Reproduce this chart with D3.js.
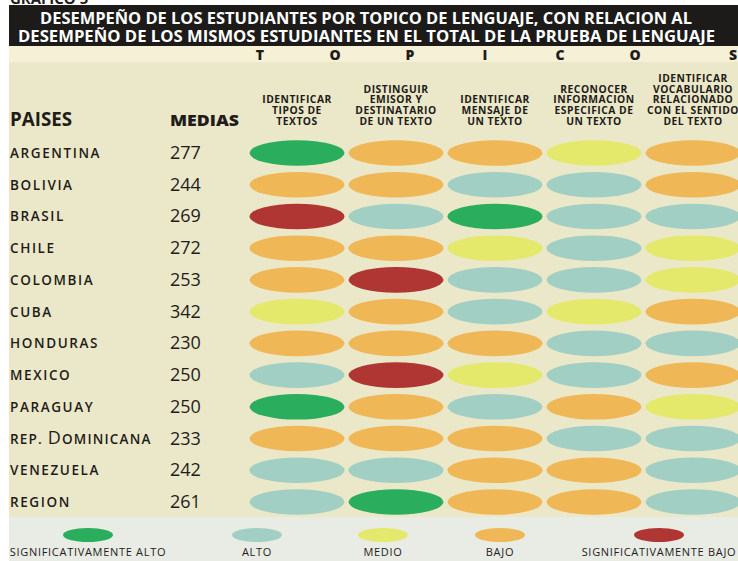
<!DOCTYPE html>
<html><head><meta charset="utf-8">
<script src="https://cdn.jsdelivr.net/npm/d3@7/dist/d3.min.js"></script>
<style>body{margin:0;background:#fff}svg{display:block}</style>
</head><body>
<svg id="chart" width="738" height="561"></svg>
<script>
const chartLabel = "GRÁFICO 5";
const titleLines = [
  "DESEMPEÑO DE LOS ESTUDIANTES POR TOPICO DE LENGUAJE, CON RELACION AL",
  "DESEMPEÑO DE LOS MISMOS ESTUDIANTES EN EL TOTAL DE LA PRUEBA DE LENGUAJE"
];
const topicLetters = ["T","O","P","I","C","O","S"];
const topics = [
  ["IDENTIFICAR","TIPOS DE","TEXTOS"],
  ["DISTINGUIR","EMISOR Y","DESTINATARIO","DE UN TEXTO"],
  ["IDENTIFICAR","MENSAJE DE","UN TEXTO"],
  ["RECONOCER","INFORMACION","ESPECIFICA DE","UN TEXTO"],
  ["IDENTIFICAR","VOCABULARIO","RELACIONADO","CON EL SENTIDO","DEL TEXTO"]
];
const countries = ["ARGENTINA","BOLIVIA","BRASIL","CHILE","COLOMBIA","CUBA","HONDURAS","MEXICO","PARAGUAY","REP. DOMINICANA","VENEZUELA","REGION"];
const medias = [277,244,269,272,253,342,230,250,250,233,242,261];
const ratings = [
  ["SA","B","B","M","B"],
  ["B","B","A","A","B"],
  ["SB","A","SA","A","A"],
  ["B","B","M","A","M"],
  ["B","SB","A","A","M"],
  ["M","B","A","M","B"],
  ["B","B","B","A","A"],
  ["A","SB","M","A","B"],
  ["SA","B","A","B","M"],
  ["B","B","B","A","A"],
  ["A","A","B","B","A"],
  ["A","SA","B","B","A"]
];
const levels = ["SA","A","M","B","SB"];
const levelLabels = ["SIGNIFICATIVAMENTE ALTO","ALTO","MEDIO","BAJO","SIGNIFICATIVAMENTE BAJO"];
const levelColors = ["#2aad5c","#a2cfc3","#e5e96b","#f0b757","#b03634"];

const svg = d3.select("#chart");
const FONT = "'Open Sans', 'Noto Sans', sans-serif";
const INK = "#1f1c1a";

// backgrounds
svg.append("rect").attr("x",9).attr("y",62).attr("width",729).attr("height",455).attr("fill","#ebe8c9");
svg.append("rect").attr("x",9).attr("y",46).attr("width",729).attr("height",16).attr("fill","#f5f0d6");
svg.append("rect").attr("x",9).attr("y",517).attr("width",729).attr("height",44).attr("fill","#e9ebe5");

svg.append("text").attr("x",10).attr("y",4).attr("font-family",FONT).attr("font-weight",700)
  .attr("font-size",15).attr("fill",INK).text(chartLabel);
svg.append("rect").attr("x",9).attr("y",5).attr("width",729).attr("height",41).attr("fill","#1c1b19");

const titleSpec = [{y:24,x0:40,x1:692},{y:42,x0:18,x1:715}];
svg.selectAll("text.title").data(titleLines).join("text").attr("class","title")
  .attr("x",(d,i)=>titleSpec[i].x0).attr("y",(d,i)=>titleSpec[i].y)
  .attr("textLength",(d,i)=>titleSpec[i].x1-titleSpec[i].x0).attr("lengthAdjust","spacingAndGlyphs")
  .attr("font-family",FONT).attr("font-weight",700).attr("font-size",16.5).attr("fill","#fff").text(d=>d);

// TOPICOS letters: first six evenly spread, last one at the panel's edge
const xLetters = d3.scalePoint().domain(d3.range(topicLetters.length - 1)).range([260,635]);
const letterX = i => i < topicLetters.length - 1 ? xLetters(i) : 733;
svg.selectAll("text.tl").data(topicLetters).join("text").attr("class","tl")
  .attr("x",(d,i)=>letterX(i)).attr("y",60).attr("text-anchor","middle")
  .attr("font-family",FONT).attr("font-weight",800).attr("font-size",14).attr("fill",INK).text(d=>d);

// scales
const x = d3.scalePoint().domain(d3.range(topics.length)).range([297,693]);
const y = d3.scalePoint().domain(countries).range([153,502]);
const color = d3.scaleOrdinal().domain(levels).range(levelColors);

// headers
svg.append("text").attr("x",10).attr("y",126).attr("textLength",62).attr("lengthAdjust","spacingAndGlyphs")
  .attr("font-family",FONT).attr("font-weight",700).attr("font-size",20).attr("fill",INK).text("PAISES");
svg.append("text").attr("x",170).attr("y",126).attr("textLength",69).attr("lengthAdjust","spacingAndGlyphs")
  .attr("font-family",FONT).attr("font-weight",800).attr("font-size",15).attr("fill",INK).text("MEDIAS");

const hdr = svg.selectAll("g.hdr").data(topics).join("g").attr("class","hdr")
  .attr("transform",(d,i)=>`translate(${x(i)},0)`);
hdr.selectAll("text").data(d=>d.map((t,j)=>({t,k:d.length-1-j}))).join("text")
  .attr("x",0).attr("y",d=>125-d.k*10.8).attr("text-anchor","middle")
  .attr("font-family",FONT).attr("font-weight",700).attr("font-size",10.3).attr("letter-spacing",0.5)
  .attr("fill",INK).text(d=>d.t);

// country labels
const cl = svg.selectAll("text.country").data(countries).join("text").attr("class","country")
  .attr("x",10).attr("y",d=>y(d)+5).attr("font-family",FONT).attr("font-weight",600)
  .attr("font-size",13.5).attr("letter-spacing",1.6).attr("fill",INK);
cl.each(function(d){
  const s = d3.select(this);
  if (d === "REP. DOMINICANA") {
    s.attr("letter-spacing",1.2);
    s.append("tspan").text("REP. ");
    s.append("tspan").attr("font-size",18).attr("font-weight",500).text("D");
    s.append("tspan").text("OMINICANA");
  } else s.text(d);
});

svg.selectAll("text.media").data(medias).join("text").attr("class","media")
  .attr("x",170).attr("y",(d,i)=>y(countries[i])+6).attr("font-family",FONT)
  .attr("font-size",18).attr("fill",INK).text(d=>d);

// ellipses
const rows = svg.selectAll("g.row").data(ratings).join("g").attr("class","row")
  .attr("transform",(d,i)=>`translate(0,${y(countries[i])})`);
rows.selectAll("ellipse").data(d=>d).join("ellipse")
  .attr("cx",(d,j)=>x(j)).attr("cy",0).attr("rx",47.5).attr("ry",12.8)
  .attr("fill",d=>color(d));

// legend
const lx = d3.scaleOrdinal().domain(levels).range([88,257,383,500,659]);
svg.selectAll("ellipse.leg").data(levels).join("ellipse").attr("class","leg")
  .attr("cx",d=>lx(d)).attr("cy",535).attr("rx",25).attr("ry",7).attr("fill",d=>color(d));
svg.selectAll("text.leg").data(levels).join("text").attr("class","leg")
  .attr("x",d=>lx(d)).attr("y",556).attr("text-anchor","middle")
  .attr("font-family",FONT).attr("font-size",11).attr("letter-spacing",0.7).attr("fill",INK)
  .text((d,i)=>levelLabels[i]);
</script>
</body></html>
